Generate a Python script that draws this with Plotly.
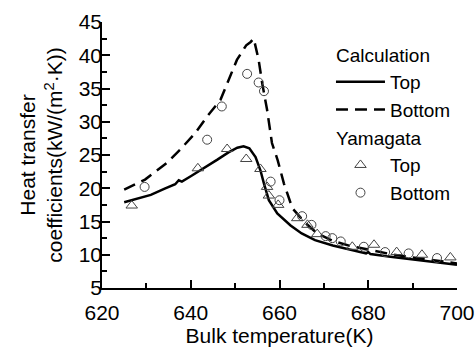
import plotly.graph_objects as go

# Calculation curves
calc_top_x = [625, 628, 631, 634, 636.5, 637.3, 638, 640, 643, 646, 648.5, 650.5, 651.9, 653.2, 654.6,
              655.7, 656.5, 657.6, 659.5, 662.5, 665, 668, 672, 676, 679.5, 680, 680.5, 685, 690, 695, 700]
calc_top_y = [17.9, 18.4, 19.0, 19.9, 20.6, 21.2, 21.0, 21.8, 23.0, 24.3, 25.4, 26.1, 26.3, 26.0, 24.7,
              22.7, 20.7, 18.2, 16.2, 14.4, 13.2, 12.2, 11.4, 10.7, 10.2, 10.4, 10.1, 9.7, 9.3, 8.9, 8.5]

calc_bot_x = [625, 629.7, 634.6, 637.6, 641, 643.7, 646.7, 648.5, 650.4, 652.5, 653.5, 654.2, 655.3, 656.1,
              657.2, 658.3, 659.6, 661, 662.9, 665.5, 668.5, 672, 676, 680, 685, 690, 695, 700]
calc_bot_y = [19.8, 21.3, 23.8, 25.8, 28.3, 30.8, 33.3, 36.3, 39.3, 41.5, 42.0, 42.5, 39.3, 35.8,
              31.8, 26.8, 24.2, 20.7, 17.0, 15.0, 13.2, 12.1, 11.3, 10.8, 10.1, 9.6, 9.1, 8.7]

# Yamagata experimental data
yam_top_x = [626.7, 641.6, 648.2, 652.5, 655.7, 657.2, 657.6, 659.7, 664.0, 666.3, 668.5, 676.4,
             681.3, 686.4, 692.1, 698.5]
yam_top_y = [17.4, 23.0, 25.9, 24.4, 22.9, 20.2, 18.9, 17.5, 15.5, 14.5, 13.1, 11.2,
             11.5, 10.4, 10.0, 9.6]

yam_bot_x = [629.6, 643.7, 647.0, 652.7, 655.3, 656.5, 658.0, 660.0, 665.1, 667.2, 670.4, 671.9,
             673.8, 679.0, 683.8, 689.1, 695.5]
yam_bot_y = [20.2, 27.3, 32.3, 37.2, 35.9, 34.6, 21.0, 18.2, 15.8, 14.5, 12.8, 12.5,
             12.0, 11.2, 10.4, 10.2, 9.5]

x_ticks = [620, 640, 660, 680, 700]
y_ticks = [5, 10, 15, 20, 25, 30, 35, 40, 45]

FONT = "Arial, Liberation Sans, sans-serif"

fig = go.Figure()
fig.add_trace(go.Scatter(x=calc_top_x, y=calc_top_y, mode="lines", name="Top",
                         line=dict(color="black", width=2.5),
                         legendgroup="calc", legendgrouptitle_text="Calculation"))
fig.add_trace(go.Scatter(x=calc_bot_x, y=calc_bot_y, mode="lines", name="Bottom",
                         line=dict(color="black", width=2.5, dash="12px,7px"),
                         legendgroup="calc", legendgrouptitle_text="Calculation"))
fig.add_trace(go.Scatter(x=yam_top_x, y=yam_top_y, mode="markers", name="Top",
                         marker=dict(symbol="triangle-up-open", size=10, color="#444",
                                     line=dict(width=1)),
                         legendgroup="yam", legendgrouptitle_text="Yamagata"))
fig.add_trace(go.Scatter(x=yam_bot_x, y=yam_bot_y, mode="markers", name="Bottom",
                         marker=dict(symbol="circle-open", size=9, color="#444",
                                     line=dict(width=1)),
                         legendgroup="yam", legendgrouptitle_text="Yamagata"))

fig.update_layout(
    width=475, height=349,
    margin=dict(l=102, r=18, t=22, b=61, autoexpand=False),
    paper_bgcolor="white", plot_bgcolor="white",
    font=dict(family=FONT, size=21, color="black"),
    showlegend=True,
    legend=dict(x=0.645, y=0.95, xanchor="left", yanchor="top",
                bgcolor="rgba(0,0,0,0)", borderwidth=0, tracegroupgap=0,
                font=dict(size=19), grouptitlefont=dict(size=19),
                itemwidth=49),
    xaxis=dict(range=[620, 700], tickvals=x_ticks, ticks="inside", ticklen=8, tickwidth=1.5,
               tickcolor="black", showline=True, linecolor="black", linewidth=1.5,
               showgrid=False, zeroline=False, automargin=False, ticklabelstandoff=5,
               minor=dict(dtick=10, tick0=620, ticks="inside", ticklen=5, tickwidth=1.5,
                          tickcolor="black"),
               title=dict(text="Bulk temperature(K)", standoff=2, font=dict(size=21)),
               tickfont=dict(size=21)),
    yaxis=dict(range=[5, 45], tickvals=y_ticks, ticks="inside", ticklen=8, tickwidth=1.5,
               tickcolor="black", showline=True, linecolor="black", linewidth=1.5,
               showgrid=False, zeroline=False, automargin=True, ticklabelstandoff=-6,
               minor=dict(dtick=2.5, tick0=5, ticks="inside", ticklen=5, tickwidth=1.5,
                          tickcolor="black"),
               title=dict(text="Heat transfer<br>coefficients(kW/(m<sup>2</sup>·K))",
                          standoff=10, font=dict(size=21)),
               tickfont=dict(size=21)),
)

fig.write_html("out.html")
